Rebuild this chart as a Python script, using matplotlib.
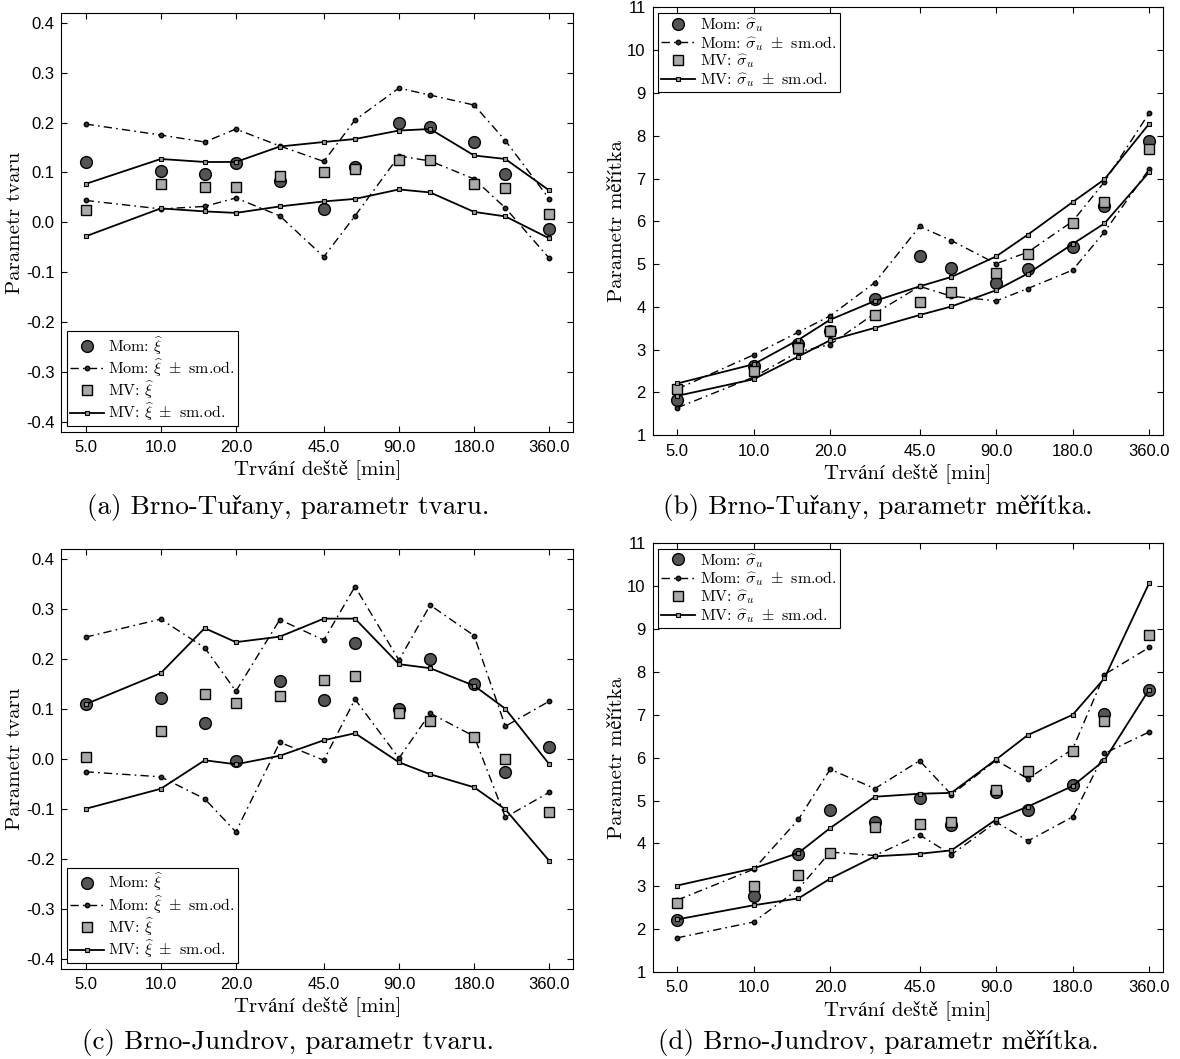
import matplotlib
matplotlib.use('Agg')
import matplotlib.pyplot as plt
from matplotlib.ticker import FixedLocator, FixedFormatter, FormatStrFormatter, NullLocator

plt.rcParams['font.family'] = ['Liberation Sans', 'DejaVu Sans']
plt.rcParams['mathtext.fontset'] = 'cm'
plt.rcParams['axes.unicode_minus'] = False

# trvani deste [min]
durations = [5, 10, 15, 20, 30, 45, 60, 90, 120, 180, 240, 360]
tick_vals = [5, 10, 20, 45, 90, 180, 360]
tick_labels = ['5.0', '10.0', '20.0', '45.0', '90.0', '180.0', '360.0']

# (a) Brno-Turany, parametr tvaru
tur_xi_mom = [0.121, 0.102, 0.096, 0.118, 0.083, 0.027, 0.110, 0.200, 0.191, 0.161, 0.096, -0.013]
tur_xi_mom_hi = [0.197, 0.175, 0.161, 0.187, 0.153, 0.122, 0.205, 0.269, 0.255, 0.235, 0.164, 0.047]
tur_xi_mom_lo = [0.044, 0.027, 0.032, 0.049, 0.013, -0.069, 0.013, 0.133, 0.123, 0.087, 0.029, -0.072]
tur_xi_mv = [0.025, 0.077, 0.071, 0.070, 0.093, 0.101, 0.107, 0.125, 0.124, 0.077, 0.069, 0.016]
tur_xi_mv_hi = [0.077, 0.127, 0.121, 0.121, 0.152, 0.161, 0.167, 0.184, 0.187, 0.134, 0.127, 0.064]
tur_xi_mv_lo = [-0.028, 0.028, 0.022, 0.019, 0.032, 0.042, 0.047, 0.066, 0.060, 0.021, 0.012, -0.032]

# (b) Brno-Turany, parametr meritka
tur_sg_mom = [1.83, 2.63, 3.14, 3.44, 4.18, 5.18, 4.90, 4.57, 4.88, 5.41, 6.35, 7.87]
tur_sg_mom_hi = [2.08, 2.88, 3.41, 3.79, 4.57, 5.88, 5.55, 5.01, 5.28, 6.00, 6.92, 8.53]
tur_sg_mom_lo = [1.64, 2.36, 2.95, 3.12, 3.85, 4.48, 4.25, 4.14, 4.43, 4.86, 5.75, 7.22]
tur_sg_mv = [2.07, 2.51, 3.05, 3.44, 3.82, 4.12, 4.35, 4.79, 5.24, 5.97, 6.46, 7.70]
tur_sg_mv_hi = [2.21, 2.66, 3.23, 3.70, 4.14, 4.48, 4.70, 5.18, 5.69, 6.45, 6.98, 8.28]
tur_sg_mv_lo = [1.92, 2.31, 2.84, 3.22, 3.51, 3.81, 4.01, 4.39, 4.78, 5.47, 5.95, 7.15]

# (c) Brno-Jundrov, parametr tvaru
jun_xi_mom = [0.109, 0.121, 0.071, -0.005, 0.155, 0.117, 0.231, 0.100, 0.199, 0.149, -0.026, 0.024]
jun_xi_mom_hi = [0.243, 0.279, 0.222, 0.135, 0.278, 0.237, 0.344, 0.197, 0.307, 0.246, 0.065, 0.115]
jun_xi_mom_lo = [-0.026, -0.036, -0.080, -0.146, 0.033, -0.003, 0.119, 0.001, 0.091, 0.045, -0.117, -0.067]
jun_xi_mv = [0.004, 0.055, 0.129, 0.111, 0.125, 0.157, 0.165, 0.091, 0.075, 0.043, -0.001, -0.107]
jun_xi_mv_hi = [0.109, 0.171, 0.261, 0.233, 0.244, 0.280, 0.280, 0.189, 0.181, 0.146, 0.100, -0.011]
jun_xi_mv_lo = [-0.100, -0.060, -0.003, -0.011, 0.006, 0.037, 0.051, -0.007, -0.031, -0.057, -0.101, -0.204]

# (d) Brno-Jundrov, parametr meritka
jun_sg_mom = [2.22, 2.77, 3.75, 4.77, 4.51, 5.06, 4.44, 5.20, 4.78, 5.36, 7.03, 7.58]
jun_sg_mom_hi = [2.68, 3.40, 4.56, 5.73, 5.28, 5.93, 5.14, 5.94, 5.51, 6.20, 7.94, 8.57]
jun_sg_mom_lo = [1.80, 2.17, 2.94, 3.80, 3.72, 4.20, 3.74, 4.50, 4.06, 4.62, 6.10, 6.60]
jun_sg_mv = [2.62, 3.01, 3.26, 3.78, 4.38, 4.45, 4.51, 5.25, 5.70, 6.15, 6.86, 8.85]
jun_sg_mv_hi = [3.02, 3.42, 3.78, 4.36, 5.09, 5.16, 5.18, 5.96, 6.53, 7.00, 7.85, 10.07]
jun_sg_mv_lo = [2.23, 2.56, 2.72, 3.18, 3.70, 3.76, 3.84, 4.56, 4.86, 5.34, 5.94, 7.59]

xi_ticks = [-0.4, -0.3, -0.2, -0.1, 0.0, 0.1, 0.2, 0.3, 0.4]
sg_ticks = [1, 2, 3, 4, 5, 6, 7, 8, 9, 10, 11]

# cmr10 nema ceske znaky -> zbytek dopise STIX
serif = ['cmr10', 'STIXGeneral']
xlab = 'Trvání deště [min]'
ylab_xi = 'Parametr tvaru'
ylab_sg = 'Parametr měřítka'


def panel(ax, mom, mom_hi, mom_lo, mv, mv_hi, mv_lo, sym, yticks, ylim, ylab, loc, xmax):
    ax.plot(durations, mom, 'o', ms=8.5, mfc='#555555', mec='black', mew=1.0,
            label='Mom: $' + sym + '$', zorder=3)
    ax.plot(durations, mom_hi, color='black', lw=1.0, dashes=(6, 3, 1.2, 3),
            marker='o', ms=3.2, mfc='#333333', mec='black',
            label='Mom: $' + sym + r'\ \pm$ sm.od.', zorder=4)
    ax.plot(durations, mom_lo, color='black', lw=1.0, dashes=(6, 3, 1.2, 3),
            marker='o', ms=3.2, mfc='#333333', mec='black', zorder=4)
    ax.plot(durations, mv, 's', ms=7.5, mfc='#aaaaaa', mec='black', mew=1.0,
            label='MV: $' + sym + '$', zorder=5)
    ax.plot(durations, mv_hi, '-', color='black', lw=1.3, marker='s', ms=3.0,
            mfc='#999999', mec='black', mew=0.8,
            label='MV: $' + sym + r'\ \pm$ sm.od.', zorder=6)
    ax.plot(durations, mv_lo, '-', color='black', lw=1.3, marker='s', ms=3.0,
            mfc='#999999', mec='black', mew=0.8, zorder=6)

    ax.set_xscale('log')
    ax.set_xlim(4, xmax)
    ax.xaxis.set_major_locator(FixedLocator(tick_vals))
    ax.xaxis.set_major_formatter(FixedFormatter(tick_labels))
    ax.xaxis.set_minor_locator(NullLocator())
    ax.set_ylim(ylim)
    ax.set_yticks(yticks)
    if ylim[1] < 1:
        ax.yaxis.set_major_formatter(FormatStrFormatter('%.1f'))
    ax.tick_params(direction='in', top=True, right=True, length=4, width=0.8,
                   labelsize=12, pad=6)
    ax.tick_params(axis='y', pad=5)
    for s in ax.spines.values():
        s.set_linewidth(0.8)
    ax.set_xlabel(xlab, fontsize=15, family=serif, labelpad=3)
    ax.set_ylabel(ylab, fontsize=15, family=serif, labelpad=1)
    leg = ax.legend(loc=loc, prop={'family': serif, 'size': 11.5}, fancybox=False,
                    edgecolor='black', framealpha=1, handlelength=2.1, handletextpad=0.3,
                    labelspacing=0.0, borderpad=0.2, borderaxespad=0.35)
    leg.get_frame().set_linewidth(0.8)


fig = plt.figure(figsize=(11.8, 10.59), dpi=100)
ax_a = fig.add_axes([0.052, 0.592, 0.434, 0.396])
ax_b = fig.add_axes([0.553, 0.589, 0.433, 0.404])
ax_c = fig.add_axes([0.052, 0.085, 0.434, 0.397])
ax_d = fig.add_axes([0.553, 0.082, 0.433, 0.405])

panel(ax_a, tur_xi_mom, tur_xi_mom_hi, tur_xi_mom_lo, tur_xi_mv, tur_xi_mv_hi, tur_xi_mv_lo,
      r'\widehat{\xi}', xi_ticks, (-0.42, 0.42), ylab_xi, 'lower left', 450)
panel(ax_b, tur_sg_mom, tur_sg_mom_hi, tur_sg_mom_lo, tur_sg_mv, tur_sg_mv_hi, tur_sg_mv_lo,
      r'\widehat{\sigma}_{u}', sg_ticks, (1, 11), ylab_sg, 'upper left', 410)
panel(ax_c, jun_xi_mom, jun_xi_mom_hi, jun_xi_mom_lo, jun_xi_mv, jun_xi_mv_hi, jun_xi_mv_lo,
      r'\widehat{\xi}', xi_ticks, (-0.42, 0.42), ylab_xi, 'lower left', 450)
panel(ax_d, jun_sg_mom, jun_sg_mom_hi, jun_sg_mom_lo, jun_sg_mv, jun_sg_mv_hi, jun_sg_mv_lo,
      r'\widehat{\sigma}_{u}', sg_ticks, (1, 11), ylab_sg, 'upper left', 410)

# popisky pod obrazky
fig.text(0.244, 0.521, '(a) Brno-Tuřany, parametr tvaru.', ha='center', va='center', fontsize=19.5, family=serif)
fig.text(0.744, 0.521, '(b) Brno-Tuřany, parametr měřítka.', ha='center', va='center', fontsize=19.5, family=serif)
fig.text(0.244, 0.016, '(c) Brno-Jundrov, parametr tvaru.', ha='center', va='center', fontsize=19.5, family=serif)
fig.text(0.744, 0.016, '(d) Brno-Jundrov, parametr měřítka.', ha='center', va='center', fontsize=19.5, family=serif)

plt.savefig('out.png', dpi=100)
